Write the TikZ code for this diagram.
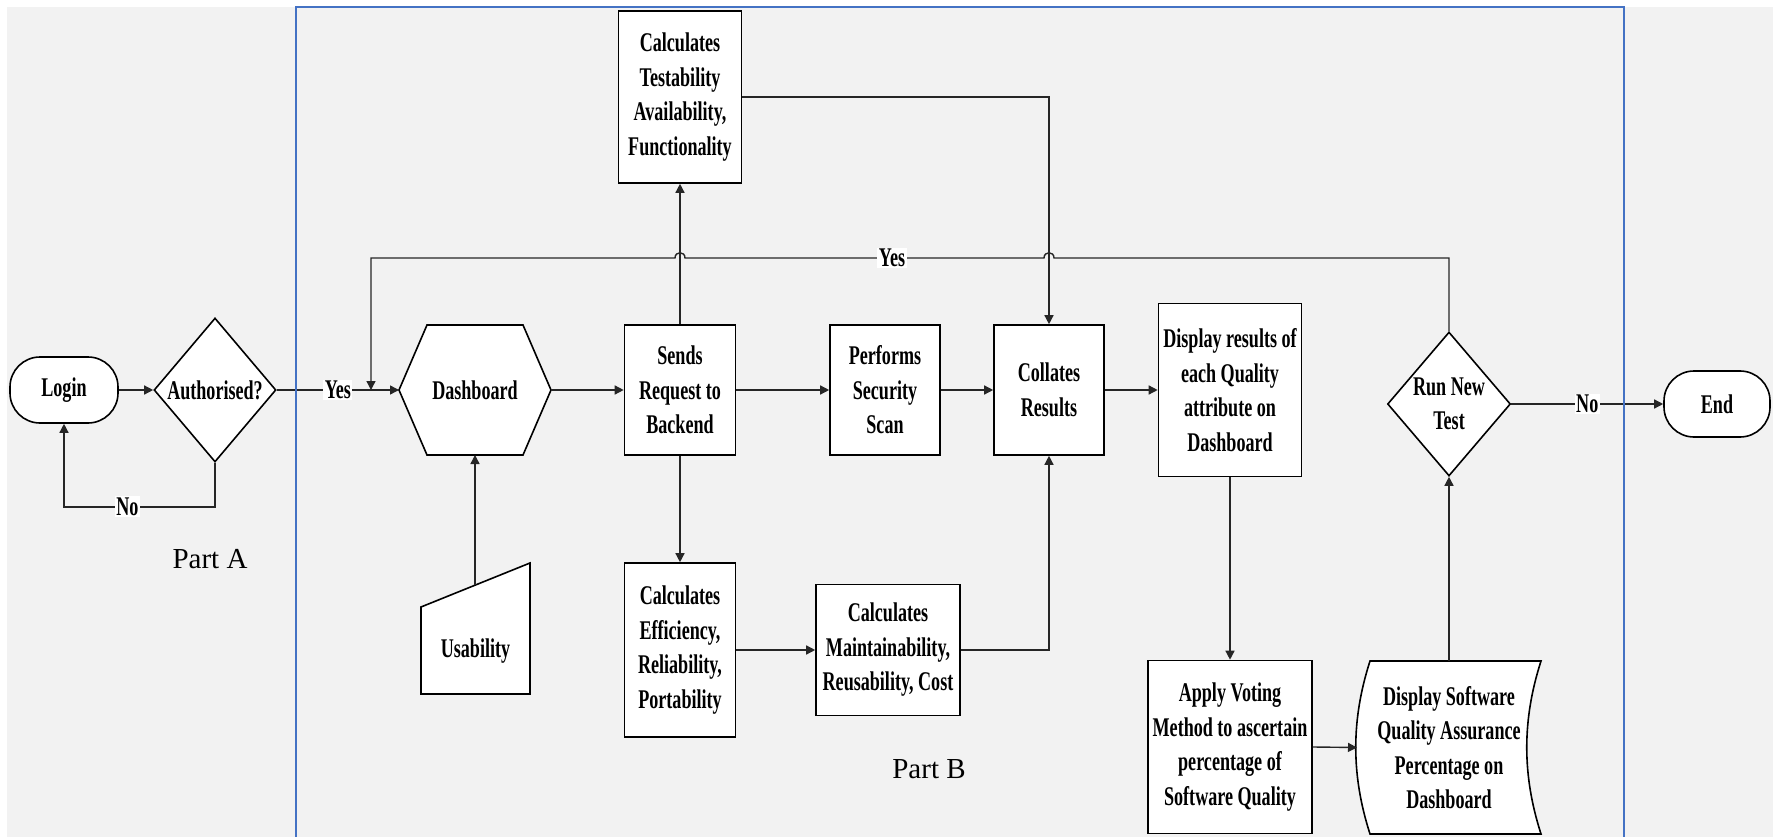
\documentclass[tikz,border=0pt]{standalone}
\usepackage{fontspec}
\setmainfont{Liberation Serif}
\newfontfamily\boxfont{Liberation Serif}[FakeStretch=0.67]
\usetikzlibrary{arrows.meta,shapes.geometric,calc}
\definecolor{pagegray}{HTML}{F2F2F2}
\definecolor{frameblue}{HTML}{4472C4}

\begin{document}
\begin{tikzpicture}[x=1pt,y=-1pt,
  boxtext/.style={font=\boxfont\bfseries\fontsize{27}{34.5}\selectfont, align=center},
  proc/.style={boxtext, draw, fill=white, line width=1.6pt, inner sep=0pt},
  term/.style={proc, rounded corners=30pt},
  decision/.style={draw, fill=white, line width=1.6pt, diamond, inner sep=0pt},
  anchorbox/.style={inner sep=0pt, outer sep=0pt},
  outline/.style={draw, fill=white, line width=1.6pt},
  link/.style={draw=black!85, line width=1.4pt},
  arrow/.style={link, -{Triangle[length=9pt,width=9pt]}},
  flag/.style={boxtext, fill=white, inner sep=1.5pt},
  part/.style={font=\fontsize{29}{34}\selectfont}
]
% page and backdrop
\useasboundingbox (0,0) rectangle (1773,837);
\clip (0,0) rectangle (1773,837);
\fill[white] (0,0) rectangle (1773,837);
\fill[pagegray] (7,7) rectangle (1773,837);

% ---------- Part A ----------
\node[term, minimum width=108pt, minimum height=66pt] (login) at (64,390) {Login};
\node[decision, minimum width=122pt, minimum height=144pt,
      label={[boxtext]center:Authorised?}] (auth) at (215,390) {};

% ---------- Part B ----------
% dashboard (hexagon)
\node[anchorbox, minimum width=152pt, minimum height=130pt] (dash) at (475,390) {};
\draw[outline] (dash.west) -- ($(dash.north west)+(28,0)$) -- ($(dash.north east)+(-28,0)$)
  -- (dash.east) -- ($(dash.south east)+(-28,0)$) -- ($(dash.south west)+(28,0)$) -- cycle;
\node[boxtext] (dashtext) at (dash) {Dashboard};

% usability (manual input)
\node[anchorbox, minimum width=109pt, minimum height=131pt] (usab) at (475.5,628.5) {};
\draw[outline] (421,607) -- (530,563) -- (530,694) -- (421,694) -- cycle;
\node[boxtext] (usabtext) at (475.5,651) {Usability};
\coordinate (uslant) at (475,585);

\node[proc, minimum width=111pt, minimum height=130pt] (send) at (680,390) {Sends\\Request to\\Backend};
\node[proc, minimum width=123pt, minimum height=172pt] (test) at (680,97) {Calculates\\Testability\\Availability,\\Functionality};
\node[proc, minimum width=110pt, minimum height=130pt] (scan) at (885,390) {Performs\\Security\\Scan};
\node[proc, minimum width=110pt, minimum height=130pt] (coll) at (1049,390) {Collates\\Results};
\node[proc, minimum width=143pt, minimum height=173pt] (disp) at (1230,390) {Display results of\\each Quality\\attribute on\\Dashboard};
\node[proc, minimum width=111pt, minimum height=174pt] (eff) at (680,650) {Calculates\\Efficiency,\\Reliability,\\Portability};
\node[proc, minimum width=144pt, minimum height=131pt] (maint) at (888,650) {Calculates\\Maintainability,\\Reusability, Cost};
\node[proc, minimum width=164pt, minimum height=173pt] (vote) at (1230,747) {Apply Voting\\Method to ascertain\\percentage of\\Software Quality};

% quality assurance display (curved sides)
\node[anchorbox, minimum width=184pt, minimum height=173pt] (dsq) at (1449,747.5) {};
\draw[outline] (1370,661) -- (1541,661) .. controls (1522,720) and (1522,775) .. (1541,834)
  -- (1370,834) .. controls (1351,775) and (1351,720) .. (1370,661) -- cycle;
\node[boxtext] (dsqtext) at (1449,747.5) {Display Software\\Quality Assurance\\Percentage on\\Dashboard};

\node[decision, minimum width=123pt, minimum height=144pt,
      label={[boxtext]center:Run New\\Test}] (again) at (1449,404) {};
\node[term, minimum width=106pt, minimum height=66pt] (end) at (1717,404) {End};

% ---------- connectors ----------
\draw[arrow] (login.east) -- (auth.west);
\draw[arrow] (auth.south) -- ++(0,44) -| node[flag, pos=0.29] (nolbl) {No} (login.south);
\draw[arrow] (auth.east) -- node[flag] (yeslbl) {Yes} (dash.west);
\draw[arrow] (uslant) -- (dash.south);
\draw[arrow] (dash.east) -- (send.west);
\draw[arrow] (send.north) -- (test.south);
\draw[arrow] (send.south) -- (eff.north);
\draw[arrow] (send.east) -- (scan.west);
\draw[arrow] (scan.east) -- (coll.west);
\draw[arrow] (coll.east) -- (disp.west);
\draw[arrow] (test.east) -| (coll.north);
\draw[arrow] (eff.east) -- (maint.west);
\draw[arrow] (maint.east) -| (coll.south);
\draw[arrow] (disp.south) -- (vote.north);
\draw[arrow] (vote.east) -- (dsq.west);
\draw[arrow] (dsq.north) -- (again.south);
\draw[arrow] (again.east) -- node[flag] (nolbl2) {No} (end.west);

% loop back to the dashboard, hopping over the two vertical lines
\draw[arrow] (again.north) -- (1449,258) -- (1054,258)
  .. controls (1054,251) and (1044,251) .. (1044,258) -- (685,258)
  .. controls (685,251) and (675,251) .. (675,258) -- (371,258) -- (371,390);
\node[flag] (yeslbl2) at (892,258) {Yes};

% section captions
\node[part] (parta) at (210,559) {Part A};
\node[part] (partb) at (929,769) {Part B};

% frame around Part B
\draw[frameblue, line width=2.8pt] (296,850) -- (296,7) -- (1624,7) -- (1624,850);
\end{tikzpicture}
\end{document}
